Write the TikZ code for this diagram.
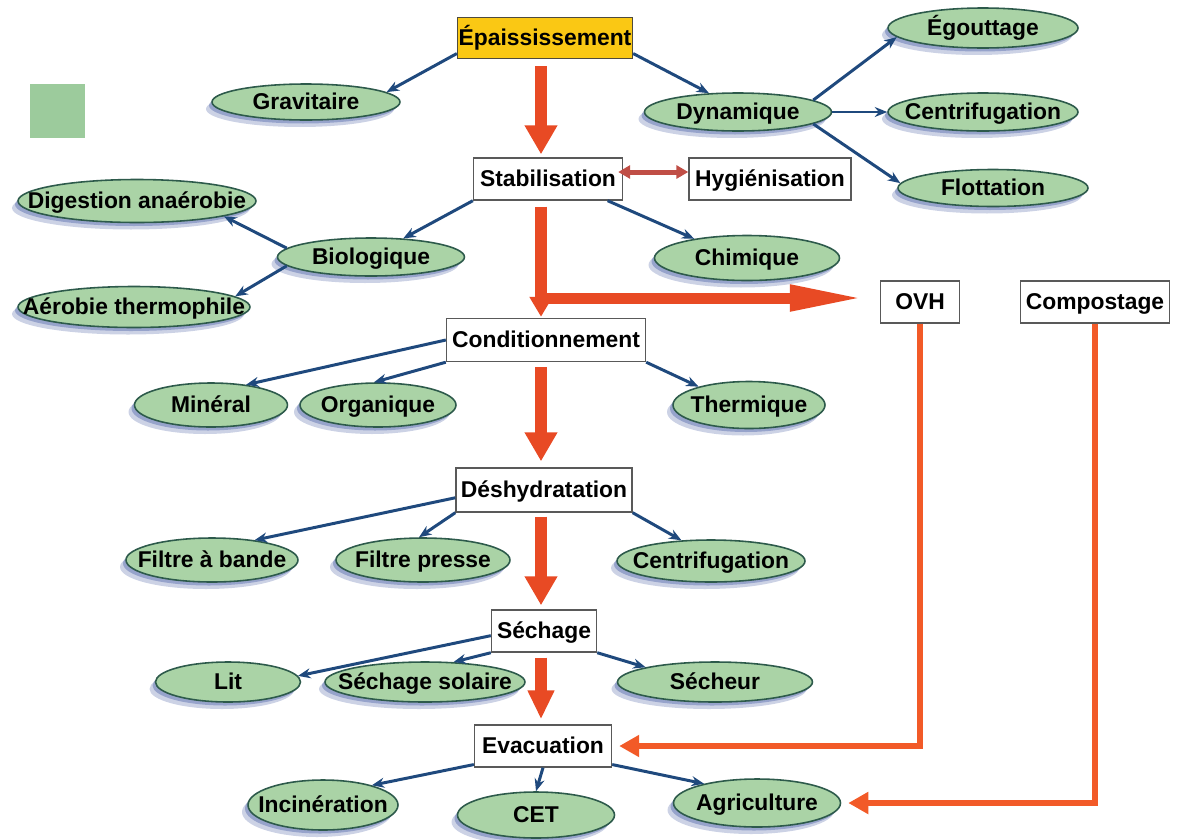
\documentclass[tikz,border=0pt]{standalone}
\usepackage{fontspec}
\setmainfont{Liberation Sans}
\usetikzlibrary{arrows.meta,shapes.geometric,shadows}
\definecolor{ovalgreen}{RGB}{170,211,166}
\definecolor{ovalline}{RGB}{45,90,75}
\definecolor{arrowblue}{RGB}{31,73,125}
\definecolor{bigred}{RGB}{232,74,36}
\definecolor{routeorange}{RGB}{242,90,40}
\definecolor{epaisgold}{RGB}{250,200,20}
\definecolor{shadowblue}{RGB}{85,105,170}
\definecolor{linkred}{RGB}{192,78,70}
\definecolor{legendgreen}{RGB}{156,203,156}
\def\ov#1{\makebox[0pt]{#1}}
\tikzset{
	oval/.style={ellipse, draw=ovalline, line width=0.9pt, fill=ovalgreen, inner sep=0pt,
		font=\fontsize{13pt}{15pt}\selectfont\bfseries, text height=9.3pt, text depth=0.6pt,
		drop shadow={shadow xshift=-0.12cm, shadow yshift=-0.14cm, fill=shadowblue, opacity=0.3},
		drop shadow={shadow xshift=-0.06cm, shadow yshift=-0.07cm, fill=shadowblue, opacity=0.45}},
	stage/.style={rectangle, draw=black!65, line width=0.8pt, fill=white, inner sep=0pt,
		minimum height=0.84cm, font=\fontsize{13pt}{15pt}\selectfont\bfseries, text height=9.3pt, text depth=0.6pt},
	branch/.style={draw=arrowblue, line width=1.7pt, -{Stealth[length=0.25cm,width=0.2cm]}},
	bigarrow/.style={draw=bigred, line width=0.24cm, -{Triangle[length=0.58cm,width=0.62cm]}},
	route/.style={draw=routeorange, line width=0.12cm, -{Triangle[length=0.4cm,width=0.42cm]}, shorten >=0.14cm},
	hyglink/.style={draw=linkred, line width=0.1cm, {Triangle[length=0.24cm,width=0.26cm]}-{Triangle[length=0.24cm,width=0.26cm]}}
}

\begin{document}
\begin{tikzpicture}[x=0.02cm, y=-0.02cm]
			%%%%% START %%%%%
			\useasboundingbox (0,0) rectangle (1179,839);
			\fill[legendgreen] (30,84) rectangle (85,138);
			
			% main line
			\node[stage, fill=epaisgold, draw=black!60!yellow!50!black, minimum width=3.5cm, minimum height=0.82cm] (epais) at (545,38) {Épaississement};
			\node[stage, minimum width=2.98cm] (stab) at (548,179) {Stabilisation};
			\node[stage, minimum width=3.24cm] (hyg) at (770,179) {Hygiénisation};
			\node[stage, minimum width=3.98cm, minimum height=0.86cm] (cond) at (546,340) {Conditionnement};
			\node[stage, minimum width=3.52cm, minimum height=0.88cm] (desh) at (544,490) {Déshydratation};
			\node[stage, minimum width=2.1cm] (sech) at (544,631) {Séchage};
			\node[stage, minimum width=2.74cm] (evac) at (543,746) {Evacuation};
			\node[stage, minimum width=1.58cm] (ovh) at (920,302) {OVH};
			\node[stage, minimum width=2.98cm] (compost) at (1095,302) {Compostage};
			
			% options
			\node[oval, minimum width=3.76cm, minimum height=0.72cm] (grav) at (306,102) {\ov{Gravitaire}};
			\node[oval, minimum width=3.74cm, minimum height=0.76cm] (dyn) at (738,112) {\ov{Dynamique}};
			\node[oval, minimum width=3.8cm, minimum height=0.8cm] (egout) at (983,28) {\ov{Égouttage}};
			\node[oval, minimum width=3.8cm, minimum height=0.76cm] (centA) at (983,112) {\ov{Centrifugation}};
			\node[oval, minimum width=3.8cm, minimum height=0.74cm] (flott) at (993,188) {\ov{Flottation}};
			\node[oval, minimum width=4.76cm, minimum height=0.86cm] (digest) at (137,201) {\ov{Digestion anaérobie}};
			\node[oval, minimum width=3.74cm, minimum height=0.76cm] (bio) at (371,257) {\ov{Biologique}};
			\node[oval, minimum width=3.7cm, minimum height=0.9cm] (chim) at (747,258) {\ov{Chimique}};
			\node[oval, minimum width=4.64cm, minimum height=0.82cm] (aerob) at (134,307) {\ov{Aérobie thermophile}};
			\node[oval, minimum width=3.06cm, minimum height=0.88cm] (miner) at (211,405) {\ov{Minéral}};
			\node[oval, minimum width=3.12cm, minimum height=0.88cm] (organ) at (378,405) {\ov{Organique}};
			\node[oval, minimum width=3.04cm, minimum height=0.94cm] (therm) at (749,405) {\ov{Thermique}};
			\node[oval, minimum width=3.44cm, minimum height=0.88cm] (filtband) at (212,560) {\ov{Filtre à bande}};
			\node[oval, minimum width=3.48cm, minimum height=0.88cm] (filtpress) at (423,560) {\ov{Filtre presse}};
			\node[oval, minimum width=3.76cm, minimum height=0.84cm] (centB) at (711,561) {\ov{Centrifugation}};
			\node[oval, minimum width=2.9cm, minimum height=0.8cm] (lit) at (228,682) {\ov{Lit}};
			\node[oval, minimum width=4.0cm, minimum height=0.8cm] (solaire) at (425,682) {\ov{Séchage solaire}};
			\node[oval, minimum width=3.9cm, minimum height=0.8cm] (secheur) at (715,682) {\ov{Sécheur}};
			\node[oval, minimum width=3.0cm, minimum height=1.0cm] (incin) at (323,805) {\ov{Incinération}};
			\node[oval, minimum width=3.14cm, minimum height=0.92cm] (cet) at (536,815) {\ov{CET}};
			\node[oval, minimum width=3.34cm, minimum height=0.96cm] (agri) at (757,803) {\ov{Agriculture}};
			
			% blue branches
			\draw[branch] (epais.190) -- (grav.7);
			\draw[branch] (epais.-10) -- (dyn.147);
			\draw[branch] (dyn.9) -- (egout.186);
			\draw[branch] (dyn.east) -- (centA.west);
			\draw[branch] (dyn.-9) -- (flott.177);
			\draw[branch] (stab.south west) -- (bio.30);
			\draw[branch] (stab.-20) -- (chim.160);
			\draw[branch] (bio.174) -- (digest.-10);
			\draw[branch] (bio.186) -- (aerob.6);
			\draw[branch] (cond.west) -- (miner.30);
			\draw[branch] (cond.south west) -- (organ.100);
			\draw[branch] (cond.south east) -- (therm.160);
			\draw[branch] (desh.185) -- (filtband.25);
			\draw[branch] (desh.south west) -- (filtpress.100);
			\draw[branch] (desh.south east) -- (centB.145);
			\draw[branch] (sech.185) -- (lit.5);
			\draw[branch] (sech.south west) -- (solaire.35);
			\draw[branch] (sech.south east) -- (secheur.168);
			\draw[branch] (evac.195) -- (incin.22);
			\draw[branch] (evac.south) -- (cet.north);
			\draw[branch] (evac.-15) -- (agri.160);
			
			% red main arrows
			\draw[bigarrow] ([shift={(-4,7)}]epais.south) -- ([shift={(-7,-3)}]stab.north);
			\draw[bigarrow, -{Triangle[length=0.4cm,width=0.44cm]}] ([shift={(-7,6)}]stab.south) -- ([shift={(-5,-1)}]cond.north);
			\coordinate (junc) at (535,298);
			\draw[bigarrow, line width=0.22cm, -{Triangle[length=1.5cm,width=0.48cm]}, shorten >=0.3cm] (junc) -- (junc -| ovh.west);
			\draw[bigarrow] ([shift={(-5,5)}]cond.south) -- ([shift={(-3,-6)}]desh.north);
			\draw[bigarrow] ([shift={(-3,4)}]desh.south) -- ([shift={(-3,-4)}]sech.north);
			\draw[bigarrow, -{Triangle[length=0.58cm,width=0.5cm]}] ([shift={(-3,5)}]sech.south) -- ([shift={(-2,-5)}]evac.north);
			\draw[hyglink] ([shift={(-5,-7)}]stab.east) -- ([shift={(0,-7)}]hyg.west);
			
			% orange routes
			\draw[route] (ovh.south) |- (evac.east);
			\draw[route] (compost.south) |- (agri.east);
			%%%%% END %%%%%
\end{tikzpicture}
\end{document}
